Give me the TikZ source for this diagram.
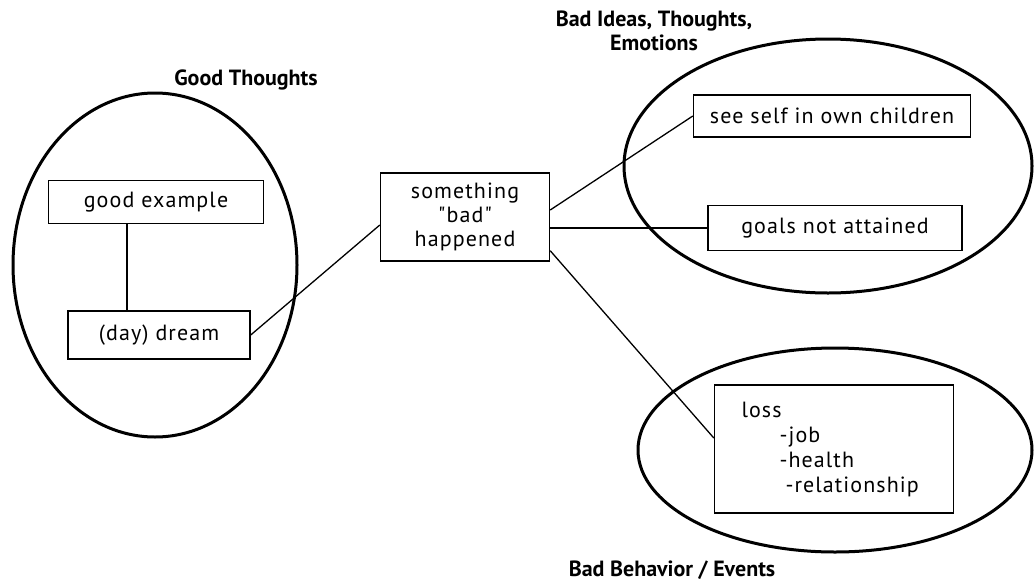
\documentclass[tikz,border=0pt]{standalone}
\usepackage{fontspec}
\setmainfont{PT Sans}
\usetikzlibrary{calc,positioning,shapes.geometric}

\begin{document}
\begin{tikzpicture}[x=1pt, y=-1pt,
  grp/.style={ellipse, draw, line width=3pt, inner sep=0pt},
  ttl/.style={font=\fontsize{22}{24}\selectfont\bfseries, align=center},
  box/.style={draw, line width=1.4pt, align=center,
    font=\fontsize{22}{24}\selectfont\addfontfeatures{LetterSpace=5,Ligatures=TeXOff}},
  link/.style={line width=1.3pt}
]
  \useasboundingbox (0,0) rectangle (1034,587);
  % Group ellipses
  \node[grp, minimum width=284pt, minimum height=344pt] (good) at (155,265) {};
  \node[grp, minimum width=408pt, minimum height=254pt] (ideas) at (828,166) {};
  \node[grp, minimum width=394pt, minimum height=204pt] (behav) at (835,450) {};
  % Group titles
  \node[ttl] (goodttl) at (246,80) {Good Thoughts};
  \node[ttl] (ideasttl) at (654,31) {Bad Ideas, Thoughts,\\Emotions};
  \node[ttl] (behavttl) at (672,570) {Bad Behavior / Events};
  % Boxes
  \node[box, minimum width=215pt, minimum height=43pt] (example) at (156,202) {good example};
  \node[box, minimum width=182pt, minimum height=48pt] (dream) at (159,335) {(day) dream};
  \node[box, minimum width=169pt, minimum height=88pt] (bad) at (465,217)
    {something\\"bad"\\happened};
  \node[box, minimum width=277pt, minimum height=42pt] (self) at (832,116) {see self in own children};
  \node[box, minimum width=254pt, minimum height=45pt] (goals) at (835,228) {goals not attained};
  \node[box, minimum width=239pt, minimum height=128pt, text width=185pt, align=left,
    font=\fontsize{22}{25}\selectfont\addfontfeatures{LetterSpace=5}] (loss) at (834,449)
    {loss\\\hspace*{38pt}-job\\\hspace*{38pt}-health\\\hspace*{44pt}-relationship};
  % Connectors
  \draw[link] (example.south -| 127,0) -- (dream.north -| 127,0);
  \draw[link] (dream.east) -- ([yshift=-8pt]bad.west);
  \draw[link] ([yshift=7pt]bad.east) -- (self.west);
  \draw[link] (bad.east |- goals.west) -- (goals.west);
  \draw[link] ([yshift=11pt]bad.south east) -- ([yshift=11pt]loss.west);
\end{tikzpicture}
\end{document}
